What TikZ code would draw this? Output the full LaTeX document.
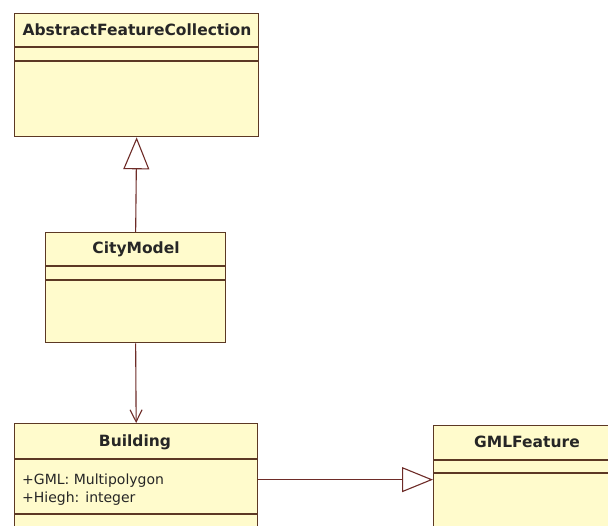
\documentclass[tikz,border=0pt]{standalone}
\usepackage{fontspec}
\setmainfont{DejaVu Sans}
\usetikzlibrary{arrows.meta}
\definecolor{classfill}{RGB}{255,251,204}
\definecolor{classline}{RGB}{92,56,36}
\definecolor{linkline}{RGB}{110,44,40}
\begin{document}
\begin{tikzpicture}[x=1pt,y=-1pt,
  classbox/.style={draw=classline, fill=classfill, line width=1.3pt, inner sep=0pt, anchor=north west},
  sep/.style={draw=classline, line width=1.3pt},
  title/.style={font=\fontsize{15.5}{17}\selectfont\bfseries, text=black!85, inner sep=0pt, anchor=base},
  attr/.style={font=\fontsize{14}{16}\selectfont, text=black!85, inner sep=0pt, anchor=base west},
  link/.style={draw=linkline, line width=1.1pt}]
\useasboundingbox (0,0) rectangle (608,526);
\clip (0,0) rectangle (608,526);
\fill[white] (0,0) rectangle (608,526);

% AbstractFeatureCollection
\node[classbox, minimum width=244pt, minimum height=123pt] (afc) at (14,13) {};
\draw[sep] ([yshift=-34pt]afc.north west) -- ([yshift=-34pt]afc.north east);
\draw[sep] ([yshift=-48pt]afc.north west) -- ([yshift=-48pt]afc.north east);
\node[title] (afct) at (137,36) {AbstractFeatureCollection};

% CityModel
\node[classbox, minimum width=180pt, minimum height=110pt] (cm) at (45,232) {};
\draw[sep] ([yshift=-34pt]cm.north west) -- ([yshift=-34pt]cm.north east);
\draw[sep] ([yshift=-48pt]cm.north west) -- ([yshift=-48pt]cm.north east);
\node[title] (cmt) at (136,254) {CityModel};

% Building
\node[classbox, minimum width=243pt, minimum height=112pt] (bld) at (14,423) {};
\draw[sep] ([yshift=-36pt]bld.north west) -- ([yshift=-36pt]bld.north east);
\draw[sep] ([yshift=-91pt]bld.north west) -- ([yshift=-91pt]bld.north east);
\node[title] (bldt) at (135,447) {Building};
\node[attr] (bld1) at (22,484) {+GML: Multipolygon};
\node[attr] (bld2) at (22,502) {+Hiegh: integer};

% GMLFeature
\node[classbox, minimum width=188pt, minimum height=108pt] (gml) at (433,425) {};
\draw[sep] ([yshift=-35pt]gml.north west) -- ([yshift=-35pt]gml.north east);
\draw[sep] ([yshift=-48pt]gml.north west) -- ([yshift=-48pt]gml.north east);
\node[title] (gmlt) at (527,448) {GMLFeature};

% relations
\draw[link, -{Triangle[open, length=32pt, width=26pt]}] (cm.north) -- (afc.south);
\draw[link, -{Straight Barb[length=12pt, width=12pt]}] (cm.south) -- (bld.north);
\draw[link, -{Triangle[open, length=31pt, width=25pt]}] (bld.east) -- (gml.west);
\end{tikzpicture}
\end{document}
